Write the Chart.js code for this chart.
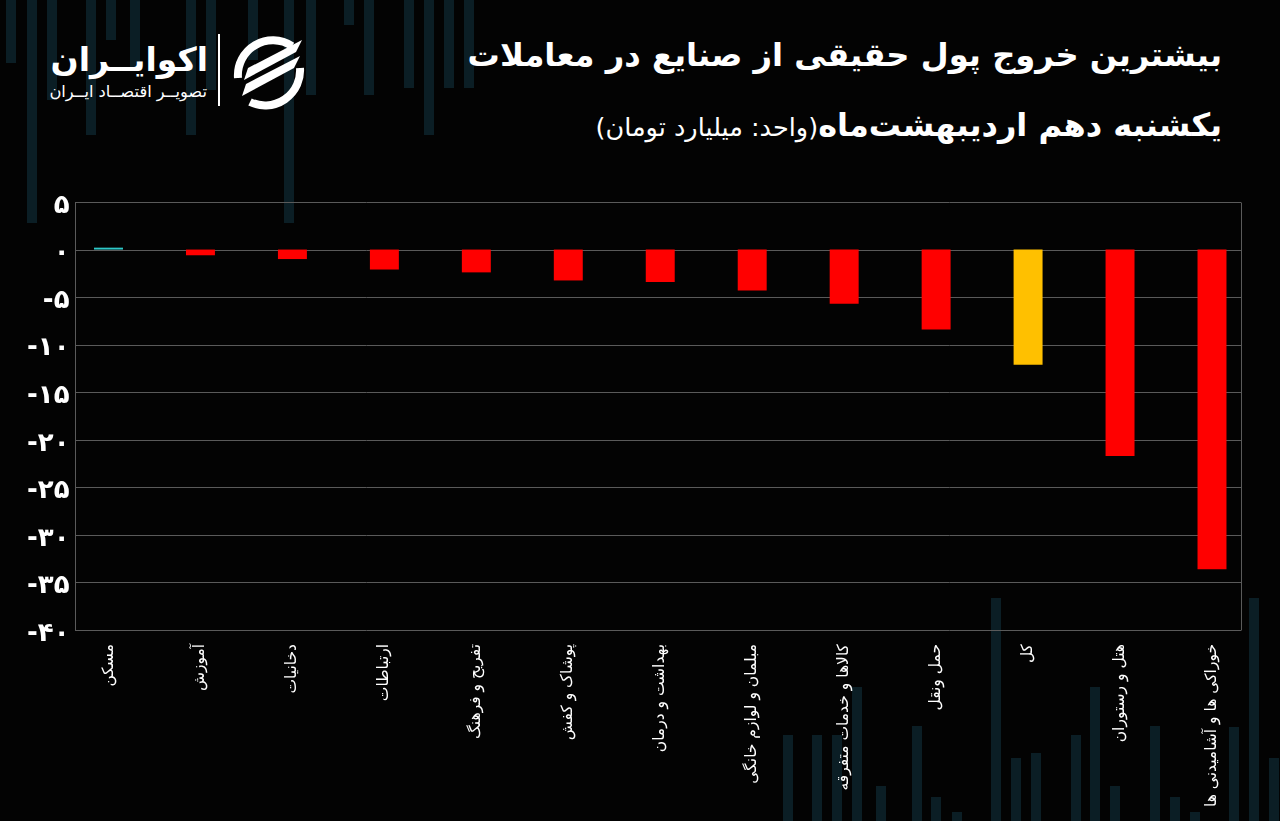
<!DOCTYPE html>
<html>
<head>
<meta charset="utf-8">
<script src="https://cdn.jsdelivr.net/npm/chart.js@4/dist/chart.umd.min.js"></script>
<style>
  html, body { margin: 0; padding: 0; background: #030303; }
  #wrap { position: relative; width: 1280px; height: 821px; overflow: hidden; background: #030303; font-family: "DejaVu Sans", sans-serif; }
  .deco { position: absolute; width: 10px; background: #0b1e25; }
  #chart-box { position: absolute; left: 0; top: 0; width: 1280px; height: 821px; }
  .title { position: absolute; right: 58px; top: 36px; color: #fff; font-weight: bold; font-size: 32.2px; direction: rtl; white-space: nowrap; }
  .subtitle { position: absolute; right: 58px; top: 106px; color: #fff; direction: rtl; white-space: nowrap; }
  .subtitle b { font-size: 32px; }
  .subtitle span { font-size: 25.5px; }
  .logo-name { position: absolute; right: 1072px; top: 40px; color: #fff; font-weight: bold; font-size: 33px; direction: rtl; white-space: nowrap; }
  .logo-sub { position: absolute; right: 1073px; top: 82px; color: #fff; font-size: 16.3px; direction: rtl; white-space: nowrap; }
  .logo-line { position: absolute; left: 218px; top: 34px; width: 2px; height: 72px; background: #fff; }
  .logo-icon { position: absolute; left: 230px; top: 32px; }
</style>
</head>
<body>
<div id="wrap">
  <div id="deco-layer"></div>
  <div class="logo-name">اکوایــران</div>
  <div class="logo-sub">تصویــر اقتصــاد ایــران</div>
  <div class="logo-line"></div>
  <svg class="logo-icon" width="78" height="78" viewBox="0 0 78 78">
    <path d="M62 14 A35 35 0 0 0 8 46" fill="none" stroke="#fff" stroke-width="8"/>
    <path d="M70 36 A35 35 0 0 1 20 70" fill="none" stroke="#fff" stroke-width="8"/>
    <path d="M18 36 L72 8 L66 20 L14 48 Z" fill="#fff"/>
    <path d="M16 52 L70 24 L64 36 L12 64 Z" fill="#fff"/>
  </svg>
  <div class="title">بیشترین خروج پول حقیقی از صنایع در معاملات</div>
  <div class="subtitle"><b>یکشنبه دهم اردیبهشت‌ماه</b><span>(واحد: میلیارد تومان)</span></div>
  <div id="chart-box"><canvas id="flow-chart" width="1280" height="821"></canvas></div>
</div>

<script>
// industries, right to left as in the source picture
let labels = [
    'مسکن',
    'آموزش',
    'دخانیات',
    'ارتباطات',
    'تفریح و فرهنگ',
    'پوشاک و کفش',
    'بهداشت و درمان',
    'مبلمان و لوازم خانگی',
    'کالاها و خدمات متفرقه',
    'حمل ونقل',
    'کل',
    'هتل و رستوران',
    'خوراکی ها و آشامیدنی ها'
];

// billion toman
let values = [0.2, -0.6, -1.0, -2.1, -2.4, -3.25, -3.4, -4.3, -5.7, -8.4, -12.1, -21.7, -33.6];

let barColours = ['#2ec8c8', '#ff0000', '#ff0000', '#ff0000', '#ff0000', '#ff0000', '#ff0000',
                  '#ff0000', '#ff0000', '#ff0000', '#ffc000', '#ff0000', '#ff0000'];

let yMin = -40;
let yMax = 5;
let yStep = 5;

const faDigits = '۰۱۲۳۴۵۶۷۸۹';
function toFa(n) {
    return String(n).replace(/\d/g, d => faDigits[d]);
}

// faint background bars, just decoration
function drawDeco() {
    let layer = document.getElementById('deco-layer');
    let top = [[6,63],[27,223],[47,100],[86,135],[106,40],[130,70],[186,135],[206,90],[248,60],[284,223],[306,95],[344,25],[364,95],[404,88],[424,135],[444,88],[464,88]];
    let bottom = [[783,735],[812,735],[832,735],[852,687],[876,786],[912,726],[931,797],[952,812],[991,598],[1011,758],[1031,753],[1071,735],[1090,687],[1110,786],[1150,726],[1170,797],[1190,812],[1229,727],[1249,598],[1269,758]];
    top.forEach(b => {
        let d = document.createElement('div');
        d.className = 'deco';
        d.style.left = b[0] + 'px'; d.style.top = '0px'; d.style.height = b[1] + 'px';
        layer.appendChild(d);
    });
    bottom.forEach(b => {
        let d = document.createElement('div');
        d.className = 'deco';
        d.style.left = b[0] + 'px'; d.style.top = b[1] + 'px'; d.style.height = (821 - b[1]) + 'px';
        layer.appendChild(d);
    });
}

// the frame + horizontal lines are wider than the category span
const frameGrid = {
    id: 'frameGrid',
    beforeDatasetsDraw(chart) {
        let c = chart.ctx;
        let y = chart.scales.y;
        let left = 75, right = 1241;
        c.save();
        c.strokeStyle = '#5a5a5a';
        c.lineWidth = 1;
        y.ticks.forEach(t => {
            let py = Math.round(y.getPixelForValue(t.value)) + 0.5;
            c.beginPath();
            c.moveTo(left, py);
            c.lineTo(right, py);
            c.stroke();
        });
        let top = Math.round(y.getPixelForValue(yMax)) + 0.5;
        let bot = Math.round(y.getPixelForValue(yMin)) + 0.5;
        c.beginPath();
        c.moveTo(left + 0.5, top); c.lineTo(left + 0.5, bot);
        c.moveTo(right + 0.5, top); c.lineTo(right + 0.5, bot);
        c.stroke();
        c.restore();
    }
};

function makeChart() {
    let ctx = document.getElementById('flow-chart').getContext('2d');
    return new Chart(ctx, {
        type: 'bar',
        data: {
            labels: labels,
            datasets: [{
                data: values,
                backgroundColor: barColours,
                barPercentage: 0.315,
                categoryPercentage: 1,
                clip: false
            }]
        },
        options: {
            responsive: false,
            animation: false,
            layout: { padding: { left: 0, right: 68, top: 202, bottom: 0 } },
            plugins: { legend: { display: false }, tooltip: { enabled: false } },
            scales: {
                x: {
                    offset: false,
                    grid: { display: false, drawTicks: false },
                    border: { display: false },
                    ticks: {
                        color: '#ffffff',
                        font: { family: 'DejaVu Sans', size: 15.5 },
                        minRotation: 90,
                        maxRotation: 90,
                        autoSkip: false,
                        padding: 14
                    },
                    afterFit(scale) { scale.height = 191; }
                },
                y: {
                    min: yMin,
                    max: yMax,
                    grid: { display: false, drawTicks: false },
                    border: { display: false },
                    ticks: {
                        stepSize: yStep,
                        color: '#ffffff',
                        font: { family: 'DejaVu Sans', size: 26, weight: 'bold' },
                        padding: 39,
                        labelOffset: 4,
                        callback: v => toFa(v)
                    },
                    afterFit(scale) { scale.width = 108.5; }
                }
            }
        },
        plugins: [frameGrid]
    });
}

drawDeco();
let myChart = makeChart();
</script>
</body>
</html>
